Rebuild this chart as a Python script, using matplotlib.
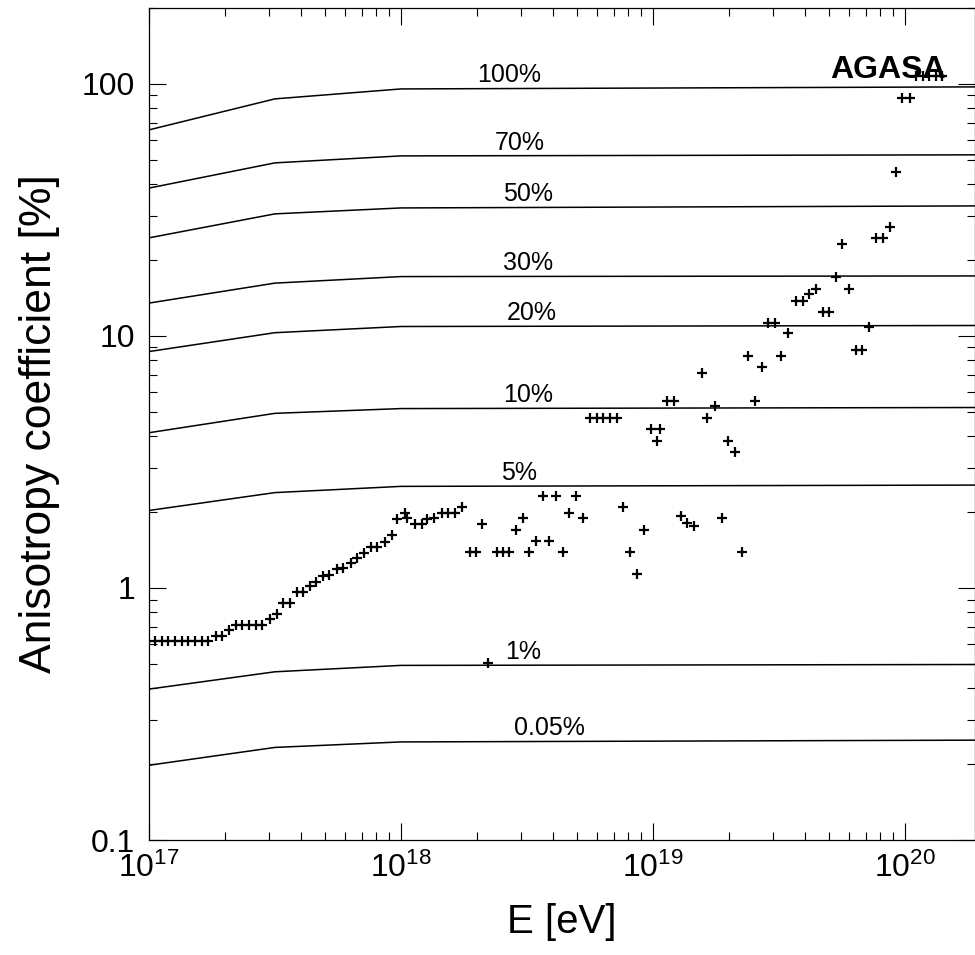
import matplotlib
matplotlib.use('Agg')
import matplotlib.pyplot as plt
import numpy as np
from matplotlib.ticker import LogLocator, NullFormatter, FixedLocator, FixedFormatter

plt.rcParams['font.family'] = ['Liberation Sans', 'DejaVu Sans']
plt.rcParams['mathtext.fontset'] = 'custom'
plt.rcParams['mathtext.rm'] = 'Liberation Sans'
plt.rcParams['mathtext.it'] = 'Liberation Sans:italic'

# AGASA data points: energy [eV], anisotropy coefficient [%]
energy = [1.056e17, 1.123e17, 1.193e17, 1.268e17, 1.348e17, 1.432e17, 1.522e17, 1.619e17, 1.710e17,
          1.840e17, 1.954e17, 2.077e17, 2.208e17, 2.346e17, 2.494e17, 2.651e17, 2.816e17, 3.021e17,
          3.211e17, 3.411e17, 3.626e17, 3.855e17, 4.096e17, 4.355e17, 4.600e17, 4.890e17, 5.194e17,
          5.557e17, 5.902e17, 6.318e17, 6.708e17, 7.132e17, 7.582e17, 8.055e17, 8.617e17, 9.186e17,
          9.667e17, 1.037e18, 1.059e18, 1.137e18, 1.208e18, 1.272e18, 1.352e18, 1.450e18, 1.541e18,
          1.638e18, 1.741e18, 1.878e18, 1.984e18, 2.102e18, 2.214e18, 2.398e18, 2.533e18, 2.676e18,
          2.860e18, 3.040e18, 3.229e18, 3.434e18, 3.650e18, 3.877e18, 4.122e18, 4.406e18, 4.654e18,
          4.948e18, 5.289e18, 5.623e18, 5.978e18, 6.350e18, 6.750e18, 7.177e18, 7.622e18, 8.103e18,
          8.664e18, 9.210e18, 9.793e18, 1.040e19, 1.066e19, 1.139e19, 1.211e19, 1.288e19, 1.368e19,
          1.454e19, 1.561e19, 1.643e19, 1.762e19, 1.874e19, 1.990e19, 2.116e19, 2.249e19, 2.388e19,
          2.540e19, 2.700e19, 2.868e19, 3.049e19, 3.241e19, 3.443e19, 3.694e19, 3.927e19, 4.172e19,
          4.435e19, 4.741e19, 5.008e19, 5.323e19, 5.658e19, 6.012e19, 6.391e19, 6.795e19, 7.217e19,
          7.722e19, 8.203e19, 8.720e19, 9.271e19, 9.793e19, 1.047e20, 1.106e20, 1.176e20, 1.249e20,
          1.327e20, 1.411e20]
aniso = [0.616, 0.616, 0.616, 0.616, 0.616, 0.616, 0.616, 0.616, 0.616,
         0.645, 0.645, 0.681, 0.713, 0.713, 0.713, 0.713, 0.713, 0.753,
         0.789, 0.874, 0.874, 0.967, 0.967, 1.018, 1.059, 1.116, 1.126,
         1.186, 1.197, 1.253, 1.312, 1.381, 1.450, 1.458, 1.526, 1.623,
         1.873, 1.979, 1.890, 1.795, 1.795, 1.873, 1.890, 1.979, 1.979,
         1.979, 2.090, 1.393, 1.393, 1.795, 0.504, 1.393, 1.393, 1.393,
         1.699, 1.890, 1.393, 1.541, 2.318, 1.541, 2.318, 1.393, 1.990,
         2.318, 1.890, 4.74, 4.74, 4.74, 4.74, 4.74, 2.090, 1.386,
         1.133, 1.699, 4.26, 3.84, 4.26, 5.54, 5.54, 1.931, 1.816,
         1.762, 7.11, 4.74, 5.27, 1.890, 3.84, 3.47, 1.386, 8.33,
         5.54, 7.55, 11.29, 11.29, 8.33, 10.25, 13.81, 13.81, 14.68,
         15.32, 12.49, 12.49, 17.10, 23.18, 15.32, 8.80, 8.80, 10.83,
         24.42, 24.42, 27.00, 44.87, 87.8, 87.8, 107.6, 107.6, 107.6,
         107.6, 107.6]

# reference curves (chance probability levels)
curve_e = [1e17, 3.16e17, 1e18, 1.9e20]
levels = ['100%', '70%', '50%', '30%', '20%', '10%', '5%', '1%', '0.05%']
curves = [
    [65.7, 87.2, 95.5, 97.3],
    [38.6, 48.6, 51.8, 52.3],
    [24.5, 30.5, 32.2, 32.8],
    [13.5, 16.2, 17.2, 17.3],
    [8.67, 10.3, 10.9, 11.0],
    [4.13, 4.93, 5.15, 5.20],
    [2.03, 2.39, 2.53, 2.56],
    [0.397, 0.465, 0.493, 0.497],
    [0.198, 0.233, 0.245, 0.249],
]
label_x = [2.7e18, 2.95e18, 3.2e18, 3.2e18, 3.3e18, 3.2e18, 2.95e18, 3.05e18, 3.9e18]

fig = plt.figure(figsize=(9.75, 9.55), dpi=100)
ax = fig.add_axes([0.1528, 0.1204, 0.8472, 0.8712])

for lab, vals, lx in zip(levels, curves, label_x):
    ax.plot(curve_e, vals, color='black', lw=1.1)
    ly = np.interp(np.log10(lx), np.log10(curve_e), np.log10(vals))
    ax.text(lx, 10 ** ly * 1.01, lab, ha='center', va='bottom', fontsize=18)

ax.plot(energy, aniso, linestyle='none', marker='+', color='black', markersize=7, mew=1.6)

ax.text(0.895, 0.925, 'AGASA', transform=ax.transAxes, ha='center', va='center',
        fontsize=23, fontweight='bold')

ax.set_xscale('log')
ax.set_yscale('log')
ax.set_xlim(1e17, 1.9e20)
ax.set_ylim(0.1, 200)

ax.xaxis.set_major_locator(FixedLocator([1e17, 1e18, 1e19, 1e20]))
ax.xaxis.set_major_formatter(FixedFormatter([r'$10^{17}$', r'$10^{18}$', r'$10^{19}$', r'$10^{20}$']))
ax.xaxis.set_minor_locator(LogLocator(base=10, subs=np.arange(2, 10), numticks=20))
ax.xaxis.set_minor_formatter(NullFormatter())
ax.yaxis.set_major_locator(FixedLocator([0.1, 1, 10, 100]))
ax.yaxis.set_major_formatter(FixedFormatter(['0.1', '1', '10', '100']))
ax.yaxis.set_minor_locator(LogLocator(base=10, subs=np.arange(2, 10), numticks=20))
ax.yaxis.set_minor_formatter(NullFormatter())

ax.tick_params(which='both', direction='in', top=True, right=True, width=0.8, colors='black')
ax.tick_params(which='major', length=12)
ax.tick_params(which='minor', length=6)
ax.tick_params(axis='x', which='major', labelsize=23, pad=9)
ax.tick_params(axis='y', which='major', labelsize=23, pad=10)
for sp in ax.spines.values():
    sp.set_linewidth(0.9)

ax.set_xlabel('E [eV]', fontsize=29, labelpad=14)
ax.set_ylabel('Anisotropy coefficient [%]', fontsize=32, labelpad=16)

fig.savefig('out.png', dpi=100)
